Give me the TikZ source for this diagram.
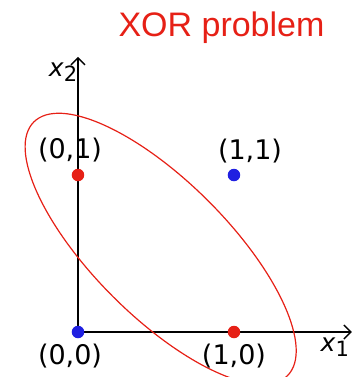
\documentclass[tikz,border=0pt]{standalone}
\usepackage{fontspec}
\setmainfont{DejaVu Sans}
\newfontfamily\titlefont{Liberation Sans}
\usepackage{tikz}
\usetikzlibrary{arrows.meta}

\definecolor{xorred}{RGB}{230,32,22}
\definecolor{xorblue}{RGB}{32,32,225}

\begin{document}
\begin{tikzpicture}[
  x=156pt, y=157pt,
  axis/.style={line width=1.8pt, -{Straight Barb[length=7pt, width=14pt, line width=1.4pt]}},
  dot/.style={circle, inner sep=0pt, minimum size=12.5pt},
  coord/.style={font=\fontsize{27}{30}\selectfont, inner sep=0pt},
  axlbl/.style={font=\fontsize{25}{27}\selectfont, inner sep=0pt},
]
\useasboundingbox (-0.5, -0.2866) rectangle (1.782, 2.115);

% title
\node[font=\titlefont\fontsize{34}{36}\selectfont, text=xorred, anchor=base]
  (title) at (0.92, 1.885) {XOR problem};

% axes
\coordinate (o) at (0, 0);
\coordinate (xend) at (1.756, 0);
\coordinate (yend) at (0, 1.752);
\draw[axis] (o) -- (xend);
\draw[axis] (o) -- (yend);
\node[axlbl] (x1) at (1.647, -0.096) {\textit{x}\raisebox{-0.35ex}{\fontsize{21}{22}\selectfont 1}};
\node[axlbl] (x2) at (-0.096, 1.656) {\textit{x}\raisebox{-0.35ex}{\fontsize{21}{22}\selectfont 2}};

% ellipse round the red points
\draw[xorred, line width=1.2pt, rotate around={-45:(0.53, 0.53)}]
  (0.53, 0.53) ellipse [x radius=1.15, y radius=0.43];

% points
\node[dot, fill=xorblue] (p00) at (0, 0) {};
\node[dot, fill=xorred] (p01) at (0, 1) {};
\node[dot, fill=xorred] (p10) at (1, 0) {};
\node[dot, fill=xorblue] (p11) at (1, 1) {};

\node[coord] (l00) at (-0.051, -0.153) {(0,0)};
\node[coord] (l01) at (-0.051, 1.159) {(0,1)};
\node[coord] (l10) at (1.0, -0.153) {(1,0)};
\node[coord] (l11) at (1.103, 1.153) {(1,1)};

\end{tikzpicture}
\end{document}
